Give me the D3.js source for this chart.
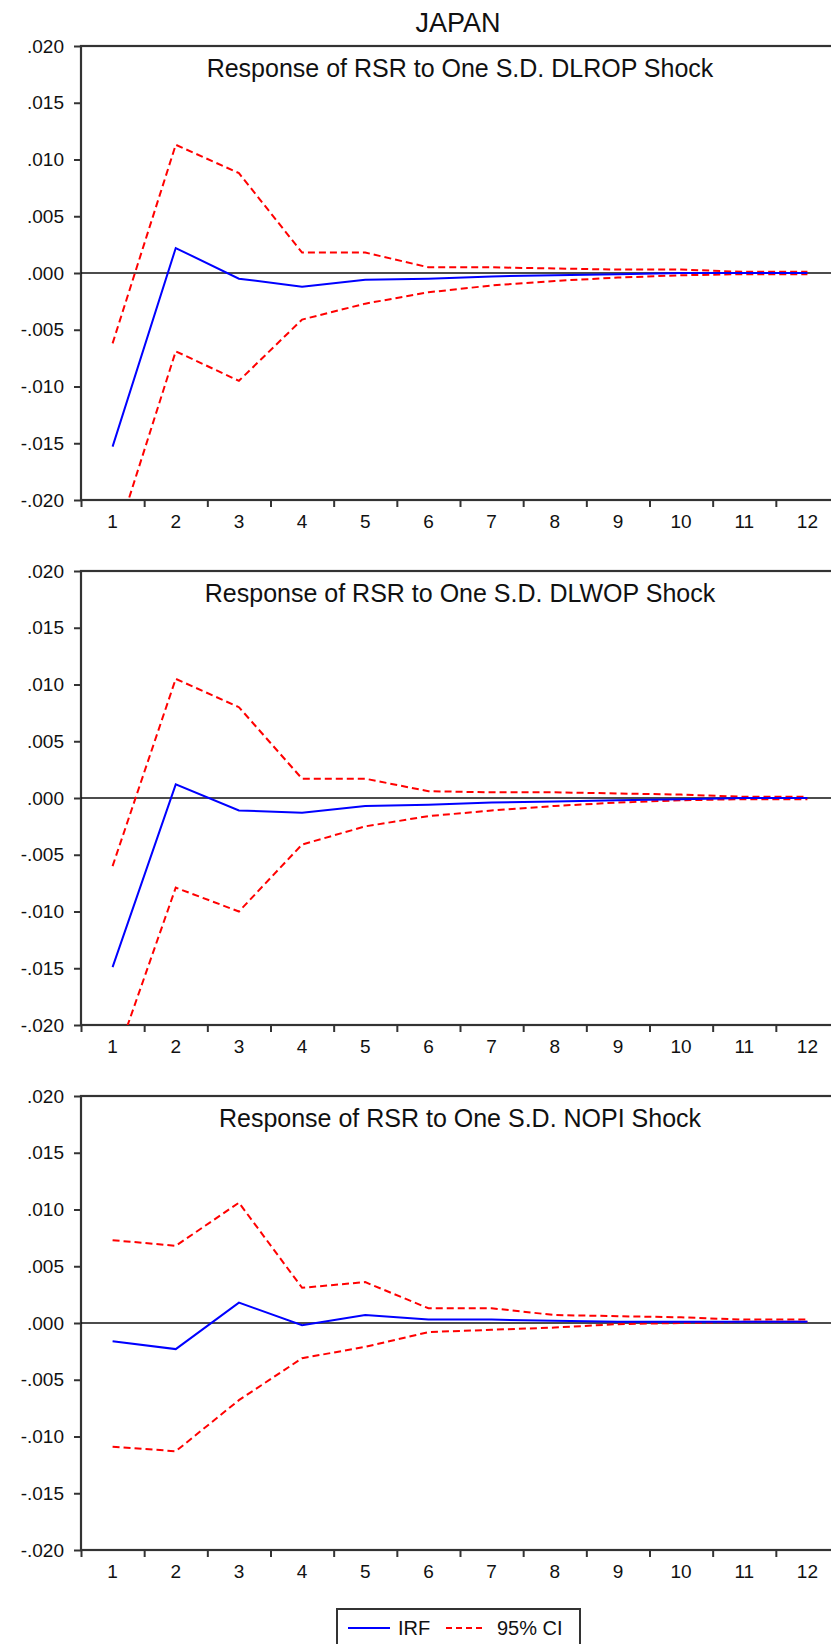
<!DOCTYPE html>
<html>
<head>
<meta charset="utf-8">
<script src="https://cdn.jsdelivr.net/npm/d3@7"></script>
<style>
  html, body { margin: 0; padding: 0; background: #fff; }
  svg { display: block; }
  text { font-family: "Liberation Sans", Arial, sans-serif; fill: #111; }
</style>
</head>
<body>
<div id="chart"></div>
<script>
// ---------------- data ----------------
const mainTitle = "JAPAN";
const periods = [1, 2, 3, 4, 5, 6, 7, 8, 9, 10, 11, 12];
const yTickValues = [-0.020, -0.015, -0.010, -0.005, 0.000, 0.005, 0.010, 0.015, 0.020];
const panelTitles = [
  "Response of RSR to One S.D. DLROP Shock",
  "Response of RSR to One S.D. DLWOP Shock",
  "Response of RSR to One S.D. NOPI Shock"
];
const legendLabels = ["IRF", "95% CI"];

const irfDLROP   = [-0.0153, 0.0022, -0.0005, -0.0012, -0.0006, -0.0005, -0.0003, -0.0002, -0.0001, 0.0000, 0.0000, 0.0000];
const upperDLROP = [-0.0062, 0.0113, 0.0088, 0.0018, 0.0018, 0.0005, 0.0005, 0.0004, 0.0003, 0.0003, 0.0001, 0.0001];
const lowerDLROP = [-0.0244, -0.0069, -0.0095, -0.0041, -0.0027, -0.0017, -0.0011, -0.0007, -0.0004, -0.0002, -0.0001, -0.0001];

const irfDLWOP   = [-0.0149, 0.0012, -0.0011, -0.0013, -0.0007, -0.0006, -0.0004, -0.0003, -0.0002, -0.0001, 0.0000, 0.0000];
const upperDLWOP = [-0.0060, 0.0105, 0.0080, 0.0017, 0.0017, 0.0006, 0.0005, 0.0005, 0.0004, 0.0003, 0.0001, 0.0001];
const lowerDLWOP = [-0.0238, -0.0079, -0.0100, -0.0041, -0.0025, -0.0016, -0.0011, -0.0007, -0.0004, -0.0002, -0.0001, -0.0001];

const irfNOPI    = [-0.0016, -0.0023, 0.0018, -0.0002, 0.0007, 0.0003, 0.0003, 0.0002, 0.0001, 0.0001, 0.0001, 0.0001];
const upperNOPI  = [0.0073, 0.0068, 0.0106, 0.0031, 0.0036, 0.0013, 0.0013, 0.0007, 0.0006, 0.0005, 0.0003, 0.0003];
const lowerNOPI  = [-0.0109, -0.0113, -0.0068, -0.0031, -0.0021, -0.0008, -0.0006, -0.0004, -0.0001, 0.0000, 0.0001, 0.0001];

const panels = [
  { title: panelTitles[0], irf: irfDLROP, upper: upperDLROP, lower: lowerDLROP },
  { title: panelTitles[1], irf: irfDLWOP, upper: upperDLWOP, lower: lowerDLWOP },
  { title: panelTitles[2], irf: irfNOPI,  upper: upperNOPI,  lower: lowerNOPI }
];

// ---------------- layout ----------------
const W = 831, H = 1644;
const left = 81, right = 839;
const panelTops = [46, 571, 1096];
const panelH = 454;
const font = '"Liberation Sans", Arial, sans-serif';
const blue = "#0000ff", red = "#ff0000", frame = "#333";

const svg = d3.select("#chart").append("svg")
  .attr("width", W).attr("height", H);

svg.append("text")
  .attr("x", 458).attr("y", 32)
  .attr("text-anchor", "middle")
  .style("font-size", "27px")
  .text(mainTitle);

const fmt = v => {
  if (Math.abs(v) < 1e-12) return ".000";
  const s = Math.abs(v).toFixed(3).replace(/^0/, "");
  return (v < 0 ? "-" : "") + s;
};

const xBand = d3.scaleBand().domain(periods).range([left, right]).padding(0);
const xEdge = d3.scaleLinear().domain([0.5, 12.5]).range([left, right]);
const xc = p => xBand(p) + xBand.bandwidth() / 2;

panels.forEach((pn, i) => {
  const top = panelTops[i];
  const y = d3.scaleLinear().domain([-0.02, 0.02]).range([top + panelH, top]);
  const g = svg.append("g");

  const clipId = "clip" + i;
  svg.append("clipPath").attr("id", clipId)
    .append("rect").attr("x", left).attr("y", top).attr("width", right - left).attr("height", panelH);

  // y axis
  const ya = g.append("g").attr("transform", `translate(${left},0)`)
    .call(d3.axisLeft(y).tickValues(yTickValues).tickFormat(fmt).tickSize(7).tickPadding(10));
  ya.select(".domain").remove();
  ya.selectAll(".tick line").attr("stroke", frame).attr("stroke-width", 2);
  ya.selectAll(".tick text").style("font-size", "19px").style("font-family", font).attr("fill", "#111");

  // x axis ticks at band edges
  const edges = d3.range(0.5, 13, 1);
  const xt = g.append("g").attr("transform", `translate(0,${top + panelH})`)
    .call(d3.axisBottom(xEdge).tickValues(edges).tickFormat("").tickSize(7));
  xt.select(".domain").remove();
  xt.selectAll(".tick line").attr("stroke", frame).attr("stroke-width", 2);

  // x labels
  const xl = g.append("g").attr("transform", `translate(0,${top + panelH})`)
    .call(d3.axisBottom(xBand).tickSize(0).tickPadding(15));
  xl.select(".domain").remove();
  xl.selectAll(".tick text").style("font-size", "19px").style("font-family", font).attr("fill", "#111");

  // frame
  g.append("rect")
    .attr("x", left).attr("y", top).attr("width", right - left).attr("height", panelH)
    .attr("fill", "none").attr("stroke", frame).attr("stroke-width", 2.2);

  // zero line
  g.append("line")
    .attr("x1", left).attr("x2", right).attr("y1", y(0)).attr("y2", y(0))
    .attr("stroke", "#111").attr("stroke-width", 1.6);

  // title
  g.append("text")
    .attr("x", 460).attr("y", top + 31)
    .attr("text-anchor", "middle")
    .style("font-size", "25px")
    .text(pn.title);

  const line = d3.line().x((d, k) => xc(periods[k])).y(d => y(d));
  const lg = g.append("g").attr("clip-path", `url(#${clipId})`);
  lg.append("path").datum(pn.upper).attr("d", line)
    .attr("fill", "none").attr("stroke", red).attr("stroke-width", 2).attr("stroke-dasharray", "7,4");
  lg.append("path").datum(pn.lower).attr("d", line)
    .attr("fill", "none").attr("stroke", red).attr("stroke-width", 2).attr("stroke-dasharray", "7,4");
  lg.append("path").datum(pn.irf).attr("d", line)
    .attr("fill", "none").attr("stroke", blue).attr("stroke-width", 2);
});

// legend
const lgd = svg.append("g");
lgd.append("rect").attr("x", 337).attr("y", 1609).attr("width", 243).attr("height", 60)
  .attr("fill", "#fff").attr("stroke", frame).attr("stroke-width", 2);
lgd.append("line").attr("x1", 348).attr("x2", 390).attr("y1", 1628).attr("y2", 1628)
  .attr("stroke", blue).attr("stroke-width", 2);
lgd.append("text").attr("x", 398).attr("y", 1635).style("font-size", "20px").text(legendLabels[0]);
lgd.append("line").attr("x1", 446).attr("x2", 486).attr("y1", 1628).attr("y2", 1628)
  .attr("stroke", red).attr("stroke-width", 2).attr("stroke-dasharray", "6,4");
lgd.append("text").attr("x", 497).attr("y", 1635).style("font-size", "20px").text(legendLabels[1]);
</script>
</body>
</html>
